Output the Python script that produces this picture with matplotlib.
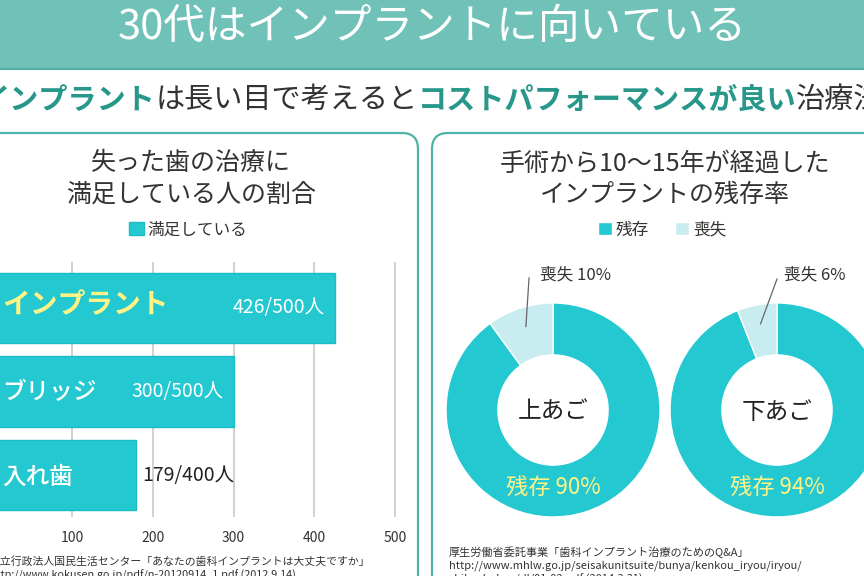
import matplotlib
matplotlib.use("Agg")
import matplotlib.pyplot as plt
from matplotlib.patches import FancyBboxPatch, Rectangle
import numpy as np

plt.rcParams['font.family'] = ['Noto Sans CJK JP', 'DejaVu Sans']

# ---------------- data ----------------
header_title = "30代はインプラントに向いている"
subtitle_parts = [("インプラント", True), ("は長い目で考えると", False),
                  ("コストパフォーマンスが良い", True), ("治療法", False)]

bar_title = "失った歯の治療に\n満足している人の割合"
bar_legend = "満足している"
bar_categories = ["インプラント", "ブリッジ", "入れ歯"]
bar_values = [426, 300, 179]
bar_totals = [500, 500, 400]
bar_ticks = [0, 100, 200, 300, 400, 500]

pie_title = "手術から10～15年が経過した\nインプラントの残存率"
pie_legend = ["残存", "喪失"]
pie_names = ["上あご", "下あご"]
pie_survive = [90, 94]
pie_lost = [10, 6]

src_left = ["独立行政法人国民生活センター「あなたの歯科インプラントは大丈夫ですか」",
            "http://www.kokusen.go.jp/pdf/n-20120914_1.pdf (2012.9.14)"]
src_right = ["厚生労働省委託事業「歯科インプラント治療のためのQ&A」",
             "http://www.mhlw.go.jp/seisakunitsuite/bunya/kenkou_iryou/iryou/",
             "shika_hoken/dl/01-02.pdf (2014.3.31)"]

# ---------------- style ----------------
W, H = 864, 576
BAR = "#23c8d0"
BAR_EDGE = "#1cbcc5"
LOST = "#c8ecf0"
TEAL_BAND = "#70c1b8"
TEAL_LINE = "#4db3a6"
TEAL_TEXT = "#27978a"
DARK = "#333333"
YELLOW = "#fff385"

fig = plt.figure(figsize=(W / 100, H / 100), dpi=100)
fig.patch.set_facecolor("white")


def px_axes(x0, y0, w, h, **kw):
    return fig.add_axes([x0 / W, 1 - (y0 + h) / H, w / W, h / H], **kw)


bg = fig.add_axes([0, 0, 1, 1], zorder=0)
bg.set_xlim(0, W)
bg.set_ylim(H, 0)
bg.axis("off")

# header band
bg.add_patch(Rectangle((0, 0), W, 68, facecolor=TEAL_BAND, edgecolor="none"))
bg.plot([0, W], [68.5, 68.5], color=TEAL_LINE, lw=1.5)
bg.text(432, 27, header_title, color="white", fontsize=30, ha="center", va="center")

# subtitle with coloured segments
fig.canvas.draw()
renderer = fig.canvas.get_renderer()
texts = []
for s, bold in subtitle_parts:
    t = bg.text(0, 100, s, fontsize=21, ha="left", va="center",
                color=TEAL_TEXT if bold else DARK,
                fontweight="bold" if bold else "normal")
    texts.append(t)
widths = [t.get_window_extent(renderer).width for t in texts]
x = 432 - sum(widths) / 2
for t, w in zip(texts, widths):
    t.set_x(x)
    x += w

# panels
for (x0, x1) in [(-40, 418), (432, 905)]:
    bg.add_patch(FancyBboxPatch((x0, 133), x1 - x0, 560,
                                boxstyle="round,pad=0,rounding_size=16",
                                facecolor="white", edgecolor=TEAL_LINE, lw=1.6))

# ---------------- bar chart ----------------
bg.text(191, 179, bar_title, fontsize=18, color=DARK, ha="center", va="center",
        linespacing=1.25)

scale = 323 / 400.0  # px per unit
zero_px = 72 - 100 * scale
ax = px_axes(0, 262, 418, 255, zorder=2)
ax.patch.set_alpha(0)
y = np.arange(len(bar_categories))
bars = ax.barh(y, bar_values, height=0.84, color=BAR, edgecolor=BAR_EDGE, lw=1,
               label=bar_legend, zorder=2)
ax.set_xticks(bar_ticks)
ax.set_xticklabels([str(v) for v in bar_ticks])
ax.set_xlim((0 - zero_px) / scale, (418 - zero_px) / scale)
ax.set_ylim(2 + 42 / 83.5, -46 / 83.5)
ax.set_yticks([])
ax.tick_params(axis="x", length=0, pad=10, labelsize=10, labelcolor=DARK)
ax.xaxis.grid(True, color="#c8c8c8", lw=1.2, zorder=0)
ax.set_axisbelow(True)
for sp in ax.spines.values():
    sp.set_visible(False)

cat_styles = [dict(color=YELLOW, fontsize=20, fontweight="bold", dy=-3),
              dict(color="white", fontsize=17, fontweight="medium", dy=1),
              dict(color="white", fontsize=17, fontweight="medium", dy=2)]
for i, (cat, st) in enumerate(zip(bar_categories, cat_styles)):
    ax.annotate(cat, xy=(0, i), xycoords=ax.get_yaxis_transform(),
                xytext=(1.5, -st["dy"] * 0.72), textcoords="offset points",
                ha="left", va="center", color=st["color"], fontsize=st["fontsize"],
                fontweight=st["fontweight"])

for i, (v, tot) in enumerate(zip(bar_values, bar_totals)):
    inside = v >= 250
    ax.annotate(f"{v}/{tot}人", xy=(v, i), xycoords="data",
                xytext=(-7.5 if inside else 5, 0), textcoords="offset points",
                ha="right" if inside else "left", va="center",
                color="white" if inside else "#222222", fontsize=14)

fig.legend(handles=[bars], labels=[bar_legend], loc="center",
           bbox_to_anchor=(188 / W, 1 - 230 / H), frameon=False, fontsize=12,
           handlelength=0.85, handleheight=0.85, handletextpad=0.2,
           labelcolor=DARK)

# ---------------- donut charts ----------------
bg.text(665, 179, pie_title, fontsize=18, color=DARK, ha="center", va="center",
        linespacing=1.25)

centers = [553, 777]
R = 107
label_anchor = [(-0.224, 1.234), (0.0, 1.224)]
label_text_x = [-0.12, 0.065]
wedges_first = None
for k, (cx, name, s, l) in enumerate(zip(centers, pie_names, pie_survive, pie_lost)):
    pa = px_axes(cx - R, 410 - R, 2 * R, 2 * R, zorder=2)
    pa.patch.set_alpha(0)
    wedges, _ = pa.pie([s, l], colors=[BAR, LOST], startangle=90, counterclock=False,
                       radius=1.0, wedgeprops=dict(width=0.485, edgecolor="white", lw=1))
    if wedges_first is None:
        wedges_first = wedges
    pa.set_xlim(-1, 1)
    pa.set_ylim(-1, 1)
    pa.set_aspect("equal")
    pa.axis("off")
    pa.text(0, -0.02, name, fontsize=17, color="#222222", ha="center", va="center")
    pa.text(0, -0.72, f"{pie_legend[0]} {s}%", fontsize=16, color=YELLOW,
            ha="center", va="center")
    # leader line to the lost wedge
    mid = np.deg2rad(90 + 360 * l / 100 / 2)
    r = 0.82
    ax0, ay0 = label_anchor[k]
    pa.plot([ax0, r * np.cos(mid)], [ay0, r * np.sin(mid)], color="#666666", lw=0.9,
            clip_on=False)
    pa.text(label_text_x[k], 1.26, f"{pie_legend[1]} {l}%", fontsize=12, color=DARK,
            ha="left", va="center", clip_on=False)

fig.legend(handles=list(wedges_first), labels=pie_legend, loc="center", ncol=2,
           bbox_to_anchor=(662 / W, 1 - 230 / H), frameon=False, fontsize=12,
           handlelength=0.85, handleheight=0.85, handletextpad=0.2,
           columnspacing=1.6, labelcolor=DARK)

# ---------------- sources ----------------
for i, s in enumerate(src_left):
    bg.text(-10, 561 + 14 * i, s, fontsize=7.8, color=DARK, ha="left", va="center")
for i, s in enumerate(src_right):
    bg.text(449, 552 + 13.5 * i, s, fontsize=8, color=DARK, ha="left", va="center")

fig.savefig("out.png", dpi=100, facecolor="white")
